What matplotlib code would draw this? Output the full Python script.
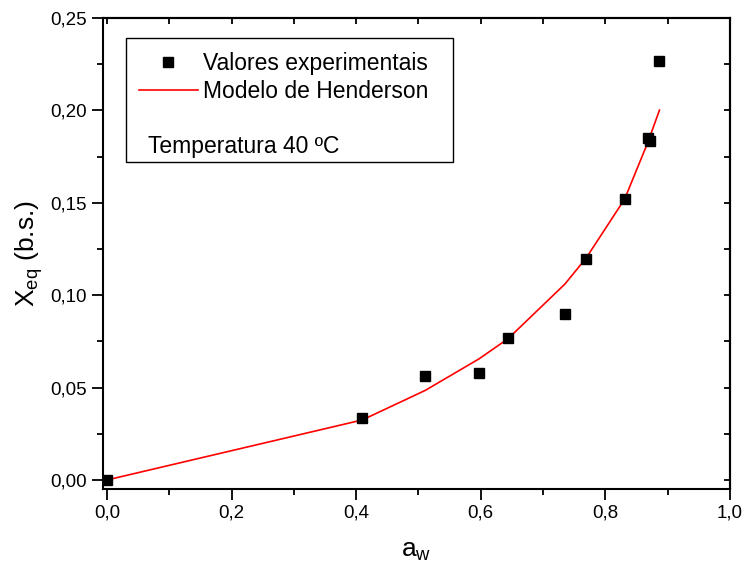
import matplotlib
matplotlib.use("Agg")
import matplotlib.pyplot as plt
from matplotlib.ticker import MultipleLocator, FuncFormatter
from matplotlib.patches import Rectangle

plt.rcParams['font.family'] = ['Liberation Sans', 'DejaVu Sans']
plt.rcParams['mathtext.fontset'] = 'custom'
plt.rcParams['mathtext.rm'] = 'Liberation Sans'
plt.rcParams['mathtext.it'] = 'Liberation Sans'

# experimental points (aw, Xeq)
aw_exp = [0.0, 0.410, 0.511, 0.597, 0.644, 0.735, 0.769, 0.831, 0.868, 0.871, 0.887]
xeq_exp = [0.0, 0.0335, 0.0563, 0.0579, 0.0768, 0.0898, 0.1196, 0.1520, 0.1850, 0.1834, 0.2267]

# Henderson model evaluated at the same aw values
aw_mod = [0.0, 0.410, 0.511, 0.597, 0.644, 0.735, 0.769, 0.831, 0.868, 0.887]
xeq_mod = [0.0, 0.0325, 0.0485, 0.0655, 0.0765, 0.1060, 0.1200, 0.1520, 0.1825, 0.2002]

fig = plt.figure(figsize=(7.44, 5.66), dpi=100)
ax = fig.add_axes([0.1384, 0.136, 0.8426, 0.832])

ax.plot(aw_exp, xeq_exp, 's', color='black', markersize=7.2, label='Valores experimentais', zorder=3)
ax.plot(aw_mod, xeq_mod, '-', color='red', linewidth=1.2, label='Modelo de Henderson', zorder=2)

ax.set_xlim(-0.0065, 1.0)
ax.set_ylim(-0.0049, 0.25)

comma = lambda fmt: FuncFormatter(lambda v, pos: (fmt % v).replace('.', ','))
ax.xaxis.set_major_locator(MultipleLocator(0.2))
ax.xaxis.set_minor_locator(MultipleLocator(0.1))
ax.yaxis.set_major_locator(MultipleLocator(0.05))
ax.yaxis.set_minor_locator(MultipleLocator(0.025))
ax.xaxis.set_major_formatter(comma('%.1f'))
ax.yaxis.set_major_formatter(comma('%.2f'))

ax.tick_params(which='major', direction='out', length=8, width=1.3, labelsize=13.5)
ax.tick_params(which='minor', direction='out', length=4, width=1.3)
for s in ax.spines.values():
    s.set_linewidth(1.5)

# inward ticks on top and right
top = ax.secondary_xaxis('top')
top.xaxis.set_major_locator(MultipleLocator(0.1))
top.tick_params(direction='in', length=4, width=1.3, labeltop=False)
right = ax.secondary_yaxis('right')
right.yaxis.set_major_locator(MultipleLocator(0.025))
right.tick_params(direction='in', length=4, width=1.3, labelright=False)
top.spines['top'].set_linewidth(1.5)
right.spines['right'].set_linewidth(1.5)

ax.set_xlabel('a$_\\mathrm{w}$', fontsize=19, labelpad=12)
ax.set_ylabel('X$_\\mathrm{eq}$ (b.s.)', fontsize=19, labelpad=4)

# legend box with temperature note
ax.add_patch(Rectangle((0.037, 0.694), 0.521, 0.2635, transform=ax.transAxes,
                       fill=False, edgecolor='black', linewidth=1.0, zorder=4))
ax.legend(loc='upper left', bbox_to_anchor=(0.057, 0.927), frameon=False,
          fontsize=16.5, handlelength=2.6, handletextpad=0.2, labelspacing=0.2,
          borderpad=0, borderaxespad=0)
ax.text(0.072, 0.728, 'Temperatura 40 ºC', transform=ax.transAxes,
        fontsize=16.5, va='center', ha='left')

fig.savefig('out.png', dpi=100)
